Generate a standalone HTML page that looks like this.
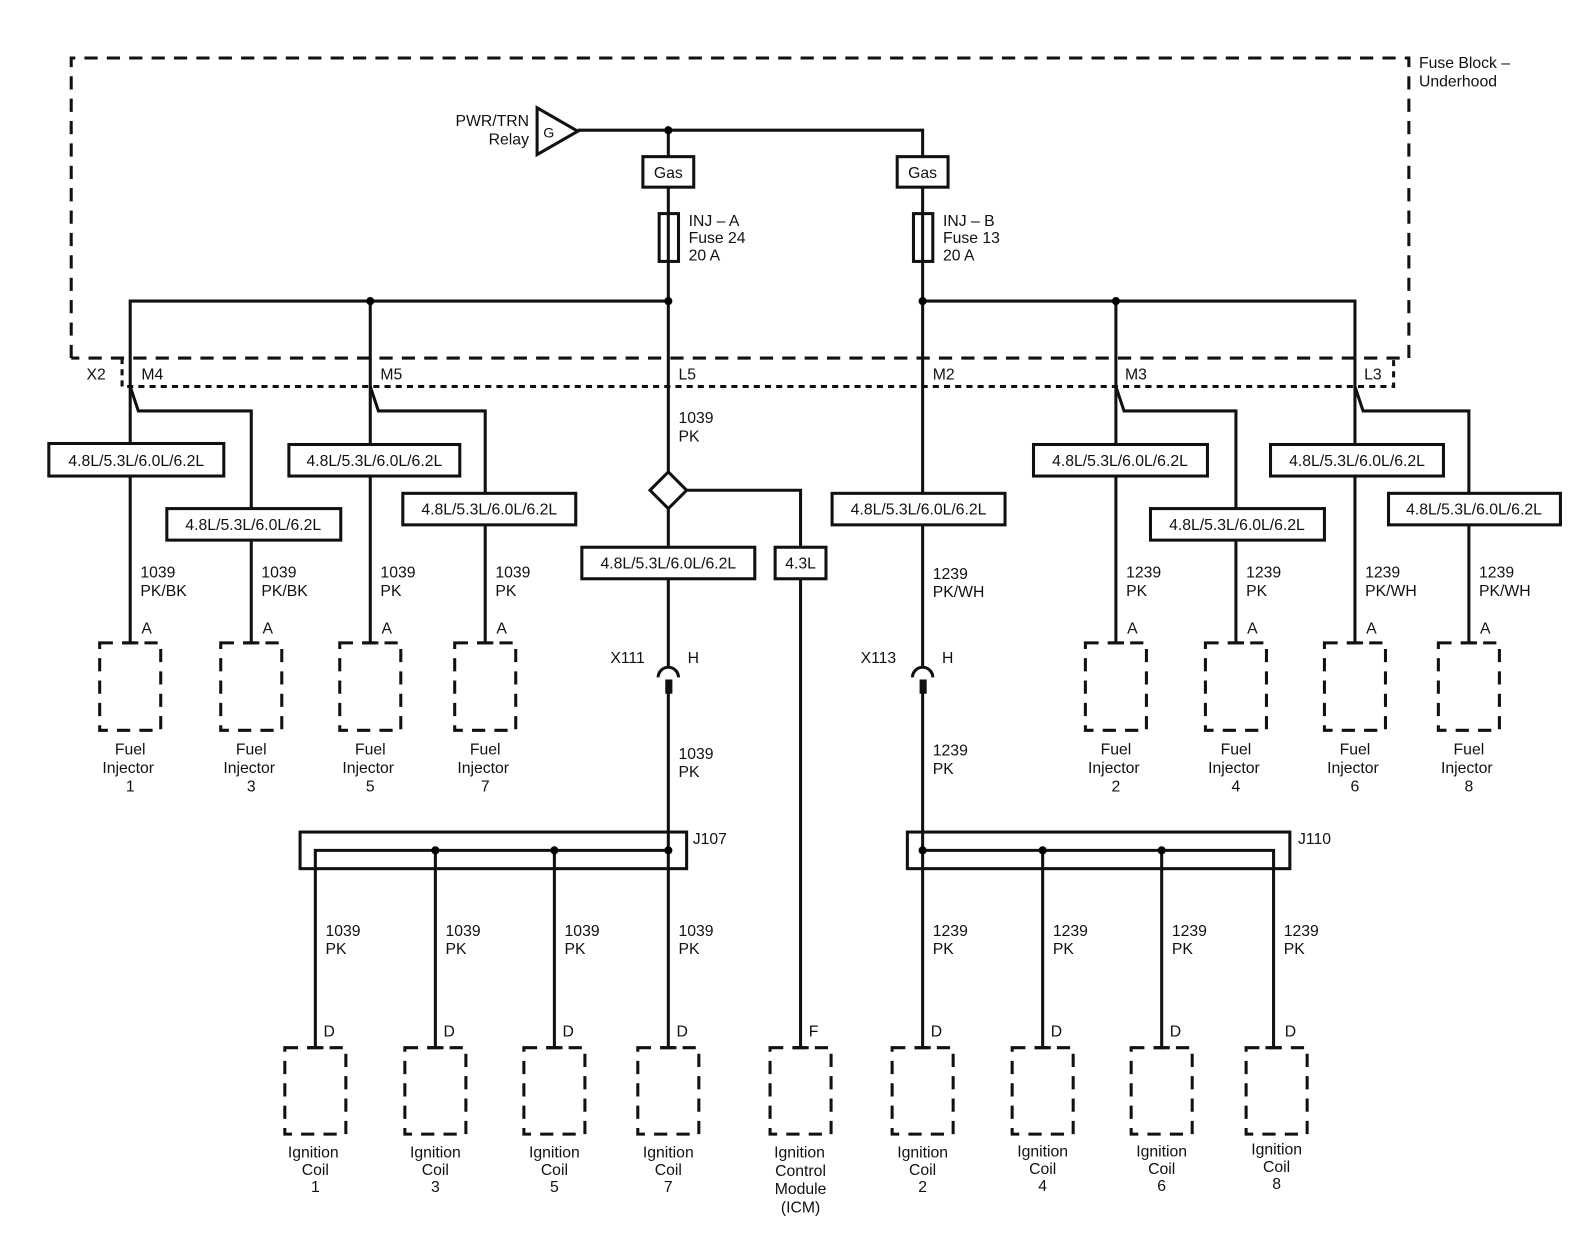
<!DOCTYPE html>
<html><head><meta charset="utf-8"><style>
html,body{margin:0;padding:0;background:#fff;}
svg{display:block;}
text{font-family:"Liberation Sans",Arial,sans-serif;font-size:15.5px;fill:#111;}
.w{stroke:#111;stroke-width:3;fill:none;}
.b{stroke:#111;stroke-width:3;fill:#fff;}
.d{stroke:#111;stroke-width:3;fill:none;stroke-dasharray:13 9;}
.dt{stroke:#111;stroke-width:3;fill:none;stroke-dasharray:6 5;}
.c{text-anchor:middle;}
.r{text-anchor:end;}
</style></head><body>
<svg width="1594" height="1244" viewBox="0 0 1567 1223" preserveAspectRatio="none" xmlns="http://www.w3.org/2000/svg">
<path class="d" d="M70,352 L70,57 L1385,57 L1385,352 L70,352"/>
<path class="dt" d="M120,352 L120,380 L1370,380 L1370,352"/>
<text x="1395" y="67">Fuse Block –</text>
<text x="1395" y="85">Underhood</text>
<polygon class="b" points="528,106 528,152 568,129"/>
<text x="534" y="135" style="font-size:14px">G</text>
<text class="r" x="520" y="124">PWR/TRN</text>
<text class="r" x="520" y="142">Relay</text>
<path class="w" d="M568,128 L907,128 L907,296"/>
<path class="w" d="M657,128 L657,464"/>
<rect class="b" x="632" y="154" width="50" height="30"/><text class="c" x="657" y="175">Gas</text>
<rect class="b" x="882" y="154" width="50" height="30"/><text class="c" x="907" y="175">Gas</text>
<rect class="b" x="648" y="210" width="19" height="47"/>
<rect class="b" x="898" y="210" width="19" height="47"/>
<path class="w" d="M657,210 L657,257 M907,210 L907,257"/>
<text x="677" y="222">INJ – A</text><text x="677" y="239">Fuse 24</text><text x="677" y="256">20 A</text>
<text x="927" y="222">INJ – B</text><text x="927" y="239">Fuse 13</text><text x="927" y="256">20 A</text>
<path class="w" d="M128,632 L128,296 L657,296"/>
<path class="w" d="M364,632 L364,296"/>
<path class="w" d="M907,296 L1332,296 L1332,632"/>
<path class="w" d="M1097,296 L1097,632"/>
<path class="w" d="M907,296 L907,655"/>
<circle cx="657" cy="128" r="4"/><circle cx="364" cy="296" r="4"/><circle cx="657" cy="296" r="4"/>
<circle cx="907" cy="296" r="4"/><circle cx="1097" cy="296" r="4"/>
<path class="w" d="M128,380 L136,404 L247,404 L247,632"/>
<path class="w" d="M364,380 L372,404 L477,404 L477,632"/>
<path class="w" d="M1097,380 L1105,404 L1215,404 L1215,632"/>
<path class="w" d="M1332,380 L1340,404 L1444,404 L1444,632"/>
<text x="85" y="373">X2</text><text x="139" y="373">M4</text><text x="374" y="373">M5</text>
<text x="667" y="373">L5</text><text x="917" y="373">M2</text><text x="1106" y="373">M3</text><text x="1341" y="373">L3</text>
<path class="w" d="M675,482 L787,482 L787,538 M787,569 L787,1030"/>
<g>
<rect class="b" x="48" y="436" width="172" height="32"/><text class="c" x="134" y="458">4.8L/5.3L/6.0L/6.2L</text>
<rect class="b" x="164" y="500" width="171" height="31"/><text class="c" x="249" y="521">4.8L/5.3L/6.0L/6.2L</text>
<rect class="b" x="284" y="437" width="168" height="31"/><text class="c" x="368" y="458">4.8L/5.3L/6.0L/6.2L</text>
<rect class="b" x="396" y="485" width="170" height="31"/><text class="c" x="481" y="506">4.8L/5.3L/6.0L/6.2L</text>
<rect class="b" x="572" y="538" width="170" height="31"/><text class="c" x="657" y="559">4.8L/5.3L/6.0L/6.2L</text>
<rect class="b" x="762" y="538" width="50" height="31"/><text class="c" x="787" y="559">4.3L</text>
<rect class="b" x="818" y="485" width="170" height="31"/><text class="c" x="903" y="506">4.8L/5.3L/6.0L/6.2L</text>
<rect class="b" x="1016" y="437" width="171" height="31"/><text class="c" x="1101" y="458">4.8L/5.3L/6.0L/6.2L</text>
<rect class="b" x="1131" y="500" width="171" height="31"/><text class="c" x="1216" y="521">4.8L/5.3L/6.0L/6.2L</text>
<rect class="b" x="1249" y="437" width="170" height="31"/><text class="c" x="1334" y="458">4.8L/5.3L/6.0L/6.2L</text>
<rect class="b" x="1365" y="485" width="169" height="31"/><text class="c" x="1449" y="506">4.8L/5.3L/6.0L/6.2L</text>
</g>
<text x="667" y="416">1039</text><text x="667" y="434">PK</text>
<polygon class="b" points="657,464 675,482 657,500 639,482"/>
<path class="w" d="M657,500 L657,538 M657,569 L657,655"/>
<path class="w" d="M647,666 A10,10 0 0 1 667,666"/>
<rect x="654" y="668" width="7" height="14" fill="#111"/>
<path class="w" d="M897,666 A10,10 0 0 1 917,666"/>
<rect x="904" y="668" width="7" height="14" fill="#111"/>
<text x="600" y="652">X111</text><text x="676" y="652">H</text>
<text x="846" y="652">X113</text><text x="926" y="652">H</text>
<path class="w" d="M657,668 L657,1030 M907,668 L907,1030"/>
<text x="667" y="746">1039</text><text x="667" y="764">PK</text>
<text x="917" y="743">1239</text><text x="917" y="761">PK</text>
<text x="138" y="568">1039</text><text x="138" y="586">PK/BK</text>
<text x="257" y="568">1039</text><text x="257" y="586">PK/BK</text>
<text x="374" y="568">1039</text><text x="374" y="586">PK</text>
<text x="487" y="568">1039</text><text x="487" y="586">PK</text>
<text x="917" y="569">1239</text><text x="917" y="587">PK/WH</text>
<text x="1107" y="568">1239</text><text x="1107" y="586">PK</text>
<text x="1225" y="568">1239</text><text x="1225" y="586">PK</text>
<text x="1342" y="568">1239</text><text x="1342" y="586">PK/WH</text>
<text x="1454" y="568">1239</text><text x="1454" y="586">PK/WH</text>
<g>
<rect class="d" x="98" y="632" width="60" height="86"/><path class="w" d="M120,632 L136,632"/><text x="139" y="623">A</text>
<rect class="d" x="217" y="632" width="60" height="86"/><path class="w" d="M239,632 L255,632"/><text x="258" y="623">A</text>
<rect class="d" x="334" y="632" width="60" height="86"/><path class="w" d="M356,632 L372,632"/><text x="375" y="623">A</text>
<rect class="d" x="447" y="632" width="60" height="86"/><path class="w" d="M469,632 L485,632"/><text x="488" y="623">A</text>
<rect class="d" x="1067" y="632" width="60" height="86"/><path class="w" d="M1089,632 L1105,632"/><text x="1108" y="623">A</text>
<rect class="d" x="1185" y="632" width="60" height="86"/><path class="w" d="M1207,632 L1223,632"/><text x="1226" y="623">A</text>
<rect class="d" x="1302" y="632" width="60" height="86"/><path class="w" d="M1324,632 L1340,632"/><text x="1343" y="623">A</text>
<rect class="d" x="1414" y="632" width="60" height="86"/><path class="w" d="M1436,632 L1452,632"/><text x="1455" y="623">A</text>
</g>
<text class="c" x="128" y="742">Fuel</text><text class="c" x="126" y="760">Injector</text><text class="c" x="128" y="778">1</text>
<text class="c" x="247" y="742">Fuel</text><text class="c" x="245" y="760">Injector</text><text class="c" x="247" y="778">3</text>
<text class="c" x="364" y="742">Fuel</text><text class="c" x="362" y="760">Injector</text><text class="c" x="364" y="778">5</text>
<text class="c" x="477" y="742">Fuel</text><text class="c" x="475" y="760">Injector</text><text class="c" x="477" y="778">7</text>
<text class="c" x="1097" y="742">Fuel</text><text class="c" x="1095" y="760">Injector</text><text class="c" x="1097" y="778">2</text>
<text class="c" x="1215" y="742">Fuel</text><text class="c" x="1213" y="760">Injector</text><text class="c" x="1215" y="778">4</text>
<text class="c" x="1332" y="742">Fuel</text><text class="c" x="1330" y="760">Injector</text><text class="c" x="1332" y="778">6</text>
<text class="c" x="1444" y="742">Fuel</text><text class="c" x="1442" y="760">Injector</text><text class="c" x="1444" y="778">8</text>
<rect class="w" x="295" y="818" width="380" height="36"/>
<path class="w" d="M310,1030 L310,836 L657,836 M428,836 L428,1030 M545,836 L545,1030"/>
<circle cx="428" cy="836" r="4"/><circle cx="545" cy="836" r="4"/><circle cx="657" cy="836" r="4"/>
<text x="681" y="830">J107</text>
<rect class="w" x="892" y="818" width="376" height="36"/>
<path class="w" d="M907,836 L1252,836 L1252,1030 M1025,836 L1025,1030 M1142,836 L1142,1030"/>
<circle cx="907" cy="836" r="4"/><circle cx="1025" cy="836" r="4"/><circle cx="1142" cy="836" r="4"/>
<text x="1276" y="830">J110</text>
<text x="320" y="920">1039</text><text x="320" y="938">PK</text>
<text x="438" y="920">1039</text><text x="438" y="938">PK</text>
<text x="555" y="920">1039</text><text x="555" y="938">PK</text>
<text x="667" y="920">1039</text><text x="667" y="938">PK</text>
<text x="917" y="920">1239</text><text x="917" y="938">PK</text>
<text x="1035" y="920">1239</text><text x="1035" y="938">PK</text>
<text x="1152" y="920">1239</text><text x="1152" y="938">PK</text>
<text x="1262" y="920">1239</text><text x="1262" y="938">PK</text>
<g>
<rect class="d" x="280" y="1030" width="60" height="85"/><path class="w" d="M302,1030 L318,1030"/><text x="318" y="1019">D</text>
<rect class="d" x="398" y="1030" width="60" height="85"/><path class="w" d="M420,1030 L436,1030"/><text x="436" y="1019">D</text>
<rect class="d" x="515" y="1030" width="60" height="85"/><path class="w" d="M537,1030 L553,1030"/><text x="553" y="1019">D</text>
<rect class="d" x="627" y="1030" width="60" height="85"/><path class="w" d="M649,1030 L665,1030"/><text x="665" y="1019">D</text>
<rect class="d" x="757" y="1030" width="60" height="85"/><path class="w" d="M779,1030 L795,1030"/><text x="795" y="1019">F</text>
<rect class="d" x="877" y="1030" width="60" height="85"/><path class="w" d="M899,1030 L915,1030"/><text x="915" y="1019">D</text>
<rect class="d" x="995" y="1030" width="60" height="85"/><path class="w" d="M1017,1030 L1033,1030"/><text x="1033" y="1019">D</text>
<rect class="d" x="1112" y="1030" width="60" height="85"/><path class="w" d="M1134,1030 L1150,1030"/><text x="1150" y="1019">D</text>
<rect class="d" x="1225" y="1030" width="60" height="85"/><path class="w" d="M1244,1030 L1260,1030"/><text x="1263" y="1019">D</text>
</g>
<text class="c" x="308" y="1138">Ignition</text><text class="c" x="310" y="1155">Coil</text><text class="c" x="310" y="1172">1</text>
<text class="c" x="428" y="1138">Ignition</text><text class="c" x="428" y="1155">Coil</text><text class="c" x="428" y="1172">3</text>
<text class="c" x="545" y="1138">Ignition</text><text class="c" x="545" y="1155">Coil</text><text class="c" x="545" y="1172">5</text>
<text class="c" x="657" y="1138">Ignition</text><text class="c" x="657" y="1155">Coil</text><text class="c" x="657" y="1172">7</text>
<text class="c" x="786" y="1138">Ignition</text><text class="c" x="787" y="1156">Control</text><text class="c" x="787" y="1174">Module</text><text class="c" x="787" y="1192">(ICM)</text>
<text class="c" x="907" y="1138">Ignition</text><text class="c" x="907" y="1155">Coil</text><text class="c" x="907" y="1172">2</text>
<text class="c" x="1025" y="1137">Ignition</text><text class="c" x="1025" y="1154">Coil</text><text class="c" x="1025" y="1171">4</text>
<text class="c" x="1142" y="1137">Ignition</text><text class="c" x="1142" y="1154">Coil</text><text class="c" x="1142" y="1171">6</text>
<text class="c" x="1255" y="1135">Ignition</text><text class="c" x="1255" y="1152">Coil</text><text class="c" x="1255" y="1169">8</text>
</svg>
</body></html>
